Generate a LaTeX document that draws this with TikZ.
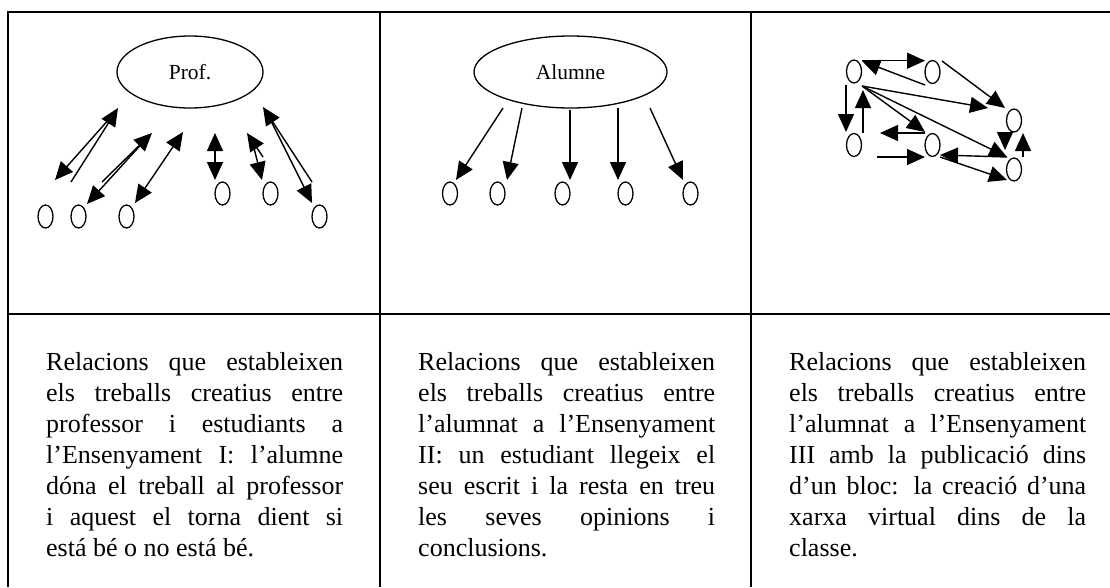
\documentclass[tikz,border=0pt]{standalone}
\usepackage{fontspec}
\setmainfont{Liberation Serif}
\usetikzlibrary{shapes.geometric,arrows.meta}

\tikzset{
  frame/.style={line width=1.7pt, line join=miter},
  bigoval/.style={ellipse, draw, line width=1.3pt, minimum height=72pt, inner sep=0pt, font=\fontsize{21.5}{25}\selectfont},
  pupil/.style={ellipse, draw, line width=1.3pt, minimum width=15pt, minimum height=23pt, inner sep=0pt},
  bighead/.tip={Triangle[length=18pt 0,width=16pt 0]},
  arr/.style={-bighead, line width=1.4pt},
  twoway/.style={bighead-bighead, line width=1.4pt},
  caption/.style={anchor=base west, inner sep=0pt, text width=297pt, align=justify, font=\fontsize{26}{31}\selectfont}
}

\begin{document}
\begin{tikzpicture}[x=1pt, y=-1pt] % pixel grid, y grows downwards

    \useasboundingbox (0, 0) rectangle (1110, 587);

    % Table lines
    \draw[frame] (1110, 12) -- (7.7, 12) -- (7.7, 587);
    \draw[frame] (7.7, 314) -- (1110, 314);
    \draw[frame] (380, 12) -- (380, 587);
    \draw[frame] (751, 12) -- (751, 587);

    % Panel I: teacher and pupils
    \node[bigoval, minimum width=146pt] (prof) at (190, 72) {Prof.};
    \node[pupil] (s1) at (45.5, 216.5) {};
    \node[pupil] (s2) at (78.5, 216.5) {};
    \node[pupil] (s3) at (126.5, 216.5) {};
    \node[pupil] (s4) at (222.5, 193.5) {};
    \node[pupil] (s5) at (270.5, 193.5) {};
    \node[pupil] (s6) at (319.5, 216.5) {};

    \coordinate (p1a) at (71, 182);   \coordinate (p1b) at (118, 108);
    \coordinate (p2a) at (110, 118);  \coordinate (p2b) at (55, 180);
    \coordinate (p3a) at (102, 182);  \coordinate (p3b) at (152, 133);
    \coordinate (p4a) at (147, 138);  \coordinate (p4b) at (87, 204);
    \coordinate (p5a) at (135, 203);  \coordinate (p5b) at (183, 132);
    \coordinate (p6a) at (215, 133);  \coordinate (p6b) at (215, 180);
    \coordinate (p7a) at (263, 157);  \coordinate (p7b) at (247, 133);
    \coordinate (p8a) at (252, 140);  \coordinate (p8b) at (262, 180);
    \coordinate (p9a) at (312, 182);  \coordinate (p9b) at (263, 107);
    \coordinate (p10a) at (268, 115); \coordinate (p10b) at (312, 203);

    \draw[arr] (p1a) -- (p1b);
    \draw[arr] (p2a) -- (p2b);
    \draw[arr] (p3a) -- (p3b);
    \draw[arr] (p4a) -- (p4b);
    \draw[twoway] (p5a) -- (p5b);
    \draw[twoway] (p6a) -- (p6b);
    \draw[arr] (p7a) -- (p7b);
    \draw[arr] (p8a) -- (p8b);
    \draw[arr] (p9a) -- (p9b);
    \draw[arr] (p10a) -- (p10b);

    % Panel II: one pupil reads to the rest
    \node[bigoval, minimum width=193pt] (alumne) at (570.5, 72) {Alumne};
    \node[pupil] (a1) at (450, 193.5) {};
    \node[pupil] (a2) at (497.5, 193.5) {};
    \node[pupil] (a3) at (562.5, 193.5) {};
    \node[pupil] (a4) at (625.5, 193.5) {};
    \node[pupil] (a5) at (690.5, 193.5) {};

    \coordinate (q1a) at (503, 108); \coordinate (q1b) at (456, 180);
    \coordinate (q2a) at (522, 108); \coordinate (q2b) at (507, 180);
    \coordinate (q3a) at (570, 110); \coordinate (q3b) at (570, 180);
    \coordinate (q4a) at (618, 108); \coordinate (q4b) at (618, 180);
    \coordinate (q5a) at (650, 108); \coordinate (q5b) at (683, 180);

    \foreach \k in {1,...,5} {
      \draw[arr] (q\k a) -- (q\k b);
    }

    % Panel III: virtual network
    \node[pupil] (n1) at (854, 71.5) {};
    \node[pupil] (n2) at (932.5, 72) {};
    \node[pupil] (n3) at (854, 145) {};
    \node[pupil] (n4) at (932.5, 145) {};
    \node[pupil] (n5) at (1014, 120.5) {};
    \node[pupil] (n6) at (1014, 169.5) {};

    \coordinate (r1a) at (862, 60.7);  \coordinate (r1b) at (925, 60.7);
    \coordinate (r2a) at (925, 85);    \coordinate (r2b) at (862, 61);
    \coordinate (r3a) at (942, 61);    \coordinate (r3b) at (1005, 108);
    \coordinate (hub) at (862, 86);
    \coordinate (r4b) at (988, 108);
    \coordinate (r5b) at (925, 132);
    \coordinate (r6b) at (1007, 157);
    \coordinate (r7a) at (846, 85);    \coordinate (r7b) at (846, 132);
    \coordinate (r8a) at (863, 133);   \coordinate (r8b) at (863, 90);
    \coordinate (r9a) at (925, 133);   \coordinate (r9b) at (880, 133);
    \coordinate (r10a) at (877, 157);  \coordinate (r10b) at (925, 157);
    \coordinate (r11a) at (1007, 157); \coordinate (r11b) at (940, 155);
    \coordinate (r12a) at (940, 157);  \coordinate (r12b) at (1007, 180);
    \coordinate (r13a) at (1005, 133); \coordinate (r13b) at (1005, 150);
    \coordinate (r14a) at (1023, 157); \coordinate (r14b) at (1023, 133);

    \draw[arr] (r1a) -- (r1b);
    \draw[arr] (r2a) -- (r2b);
    \draw[arr] (r3a) -- (r3b);
    \draw[arr] (hub) -- (r4b);
    \draw[arr] (hub) -- (r5b);
    \draw[arr] (hub) -- (r6b);
    \draw[arr] (r7a) -- (r7b);
    \draw[arr] (r8a) -- (r8b);
    \draw[arr] (r9a) -- (r9b);
    \draw[arr] (r10a) -- (r10b);
    \draw[arr] (r11a) -- (r11b);
    \draw[arr] (r12a) -- (r12b);
    \draw[arr] (r13a) -- (r13b);
    \draw[arr] (r14a) -- (r14b);

    % Captions
    \node[caption] (cap1) at (46, 370) {\hyphenpenalty=10000\tolerance=10000\hbadness=10000
      Relacions que estableixen\linebreak els treballs creatius entre\linebreak
      professor i estudiants a\linebreak l’Ensenyament I: l’alumne\linebreak
      dóna el treball al professor\linebreak i aquest el torna dient si\linebreak
      está bé o no está bé.};
    \node[caption] (cap2) at (418, 370) {\hyphenpenalty=10000\tolerance=10000\hbadness=10000
      Relacions que estableixen\linebreak els treballs creatius entre\linebreak
      l’alumnat a l’Ensenyament\linebreak II: un estudiant llegeix el\linebreak
      seu escrit i la resta en treu\linebreak les seves opinions i\linebreak
      conclusions.};
    \node[caption] (cap3) at (789, 370) {\hyphenpenalty=10000\tolerance=10000\hbadness=10000
      Relacions que estableixen\linebreak els treballs creatius entre\linebreak
      l’alumnat a l’Ensenyament\linebreak III amb la publicació dins\linebreak
      d’un bloc: la creació d’una\linebreak xarxa virtual dins de la\linebreak
      classe.};

\end{tikzpicture}
\end{document}
